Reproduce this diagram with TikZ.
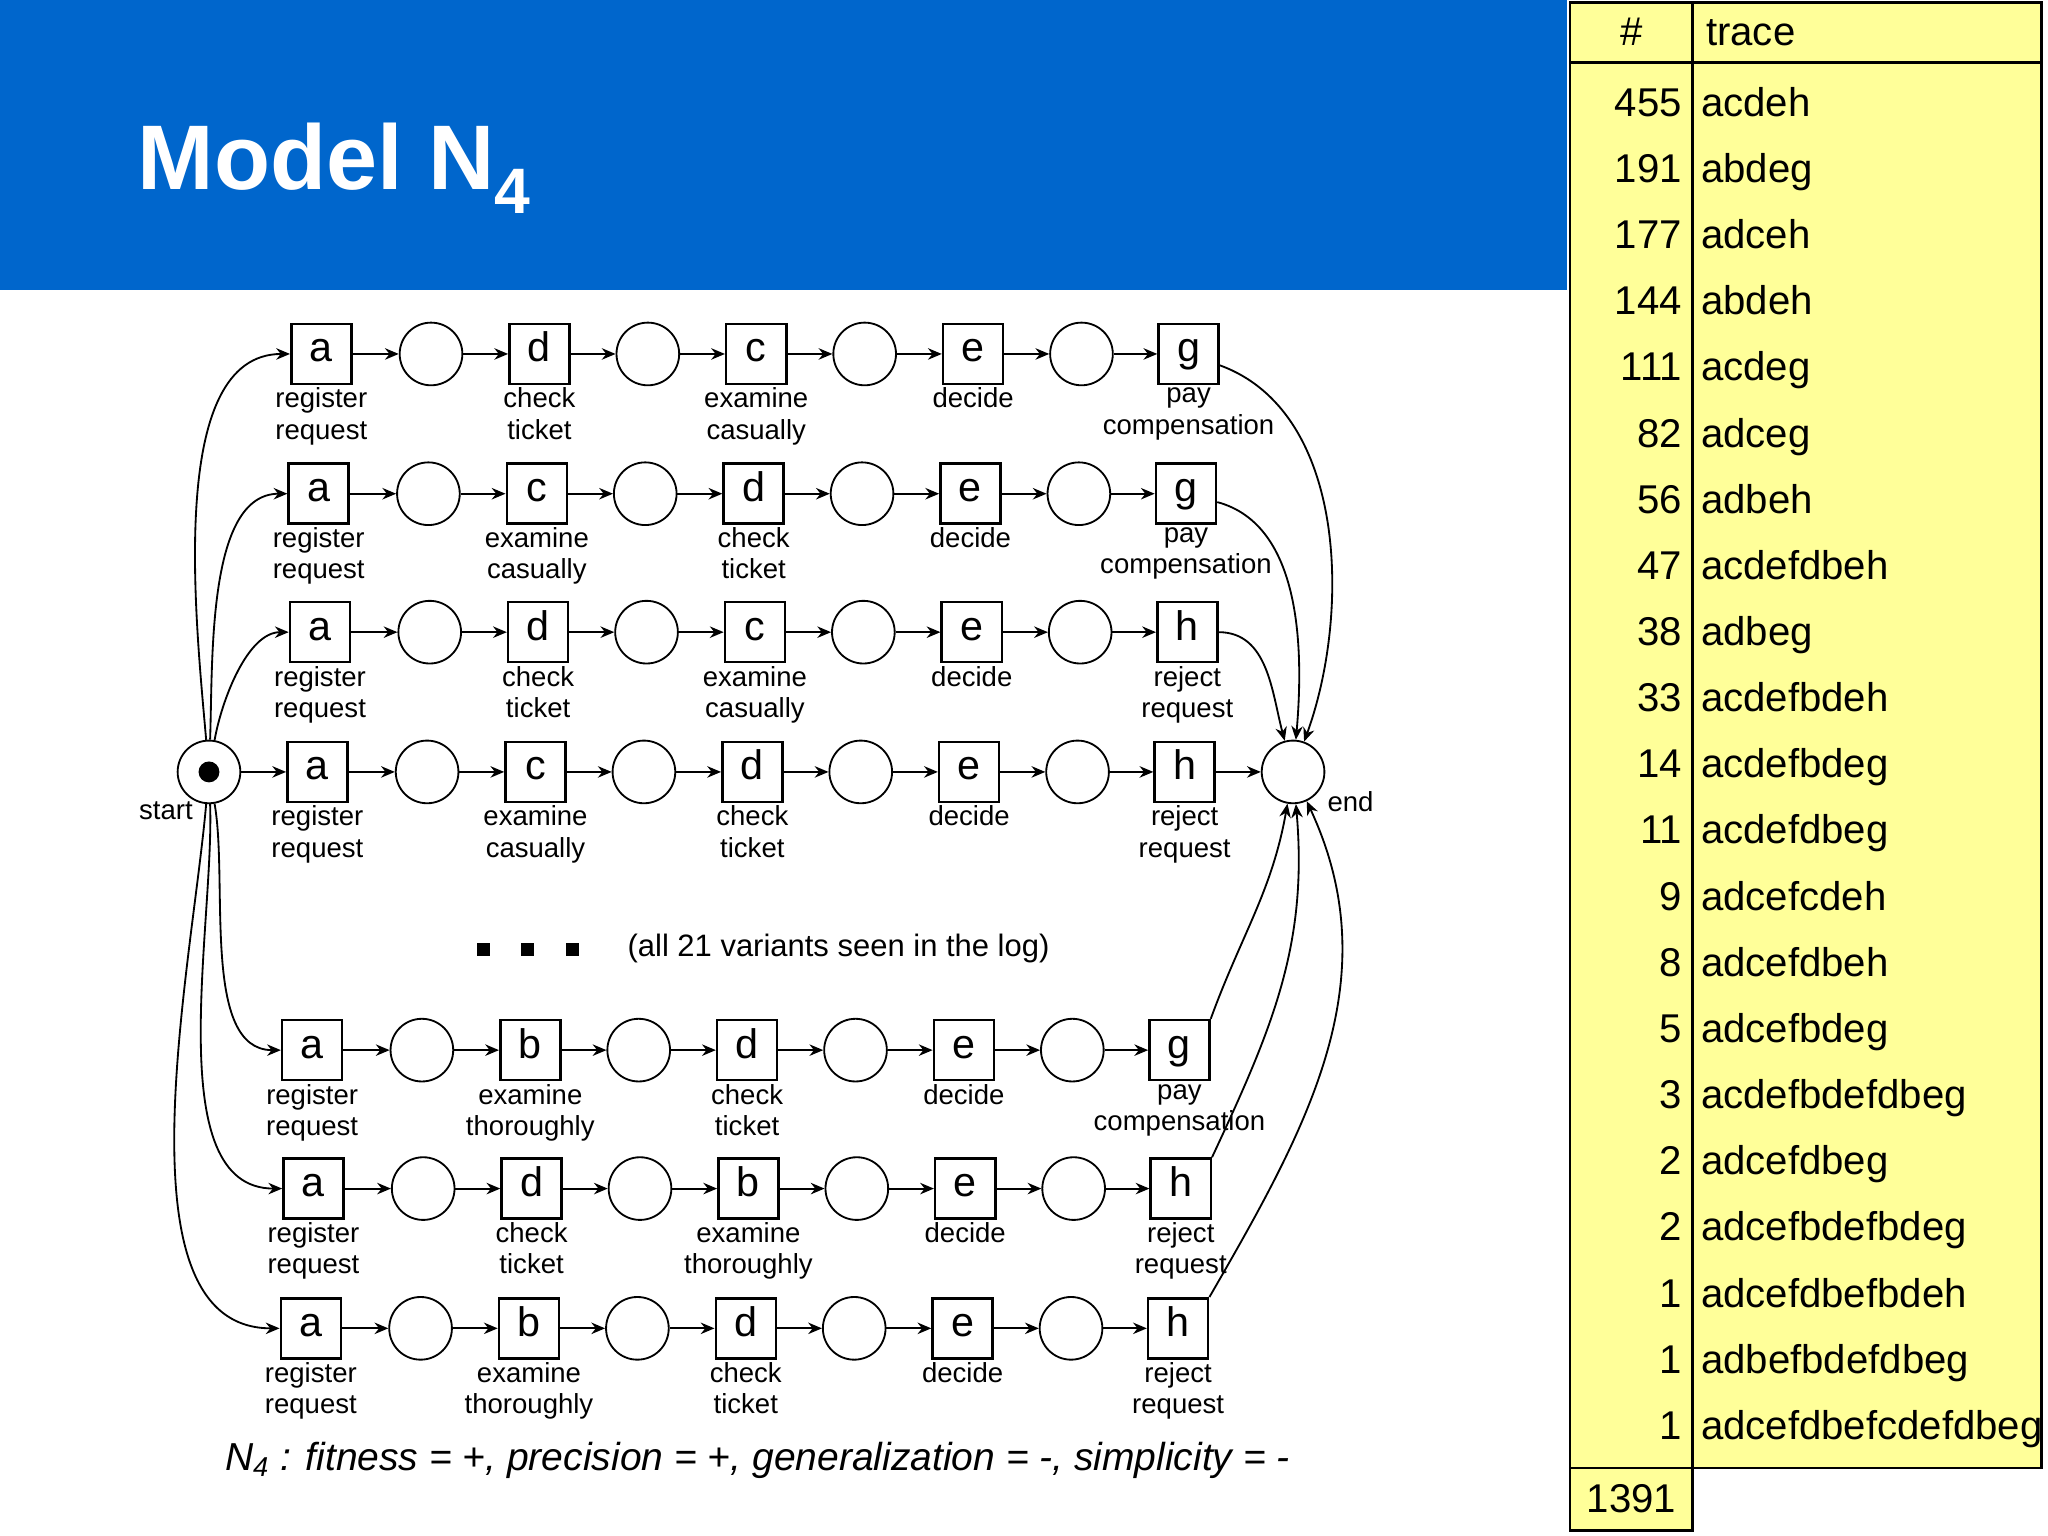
\documentclass[tikz,border=0pt]{standalone}
\usepackage{fontspec}
\setmainfont{Liberation Sans}
\usetikzlibrary{arrows.meta}
\definecolor{banner}{HTML}{0066CC}
\definecolor{tabfill}{HTML}{FFFF99}
\tikzset{
  trans/.style={draw,line width=1.1pt,minimum size=0.92cm,inner sep=0pt,text height=1.3ex,text depth=0pt,font=\fontsize{18}{20}\selectfont},
  place/.style={draw,circle,line width=0.8pt,minimum size=0.96cm,inner sep=0pt},
  lbl/.style={align=center,font=\fontsize{12}{13.6}\selectfont,inner sep=1pt},
  arc/.style={line width=0.8pt,-{Stealth[length=6pt,width=5pt]}},
  cnt/.style={anchor=base east,font=\fontsize{17.5}{20}\selectfont},
  trc/.style={anchor=base west,font=\fontsize{17.5}{20}\selectfont}
}
\newcommand\prow[9]{%
  \node[trans,label={[lbl]below:{register\\request}}] (#1t1) at (243+#3,#2) {a};
  \node[place] (#1p1) at (327+#3,#2) {};
  \node[trans,label={[lbl]below:{#5}}] (#1t2) at (410+#3,#2) {#4};
  \node[place] (#1p2) at (493+#3,#2) {};
  \node[trans,label={[lbl]below:{#7}}] (#1t3) at (576+#3,#2) {#6};
  \node[place] (#1p3) at (659+#3,#2) {};
  \node[trans,label={[lbl]below:{decide}}] (#1t4) at (742+#3,#2) {e};
  \node[place] (#1p4) at (825+#3,#2) {};
  \node[trans,label={[lbl]below:{#9}}] (#1t5) at (907+#3,#2) {#8};
  \draw[arc] (#1t1)--(#1p1); \draw[arc] (#1p1)--(#1t2);
  \draw[arc] (#1t2)--(#1p2); \draw[arc] (#1p2)--(#1t3);
  \draw[arc] (#1t3)--(#1p3); \draw[arc] (#1p3)--(#1t4);
  \draw[arc] (#1t4)--(#1p4); \draw[arc] (#1p4)--(#1t5);
}
\begin{document}
\begin{tikzpicture}[x=0.02cm,y=-0.02cm]
\useasboundingbox (0,0) rectangle (1568,1176);
\fill[white] (0,0) rectangle (1568,1176);
\fill[banner] (0,0) rectangle (1200,222);
\node[anchor=base west,text=white,font=\fontsize{40}{46}\selectfont\bfseries,inner sep=0pt] (title) at (105,145) {Model N\textsubscript{4}};
% table
\fill[tabfill,draw=black,line width=1.2pt] (1202,2) -- (1563,2) -- (1563,1124) -- (1296,1124) -- (1296,1172) -- (1202,1172) -- cycle;
\draw[line width=1.2pt] (1202,48) -- (1563,48);
\draw[line width=1.2pt] (1202,1124) -- (1296,1124);
\draw[line width=1.2pt] (1296,2) -- (1296,1172);
\node[anchor=base,font=\fontsize{17.5}{20}\selectfont] (hh) at (1249,35) {\#};
\node[trc] (ht) at (1300,35) {trace};
\foreach \n/\t [count=\i from 0] in {455/acdeh,191/abdeg,177/adceh,144/abdeh,111/acdeg,82/adceg,56/adbeh,47/acdefdbeh,38/adbeg,33/acdefbdeh,14/acdefbdeg,11/acdefdbeg,9/adcefcdeh,8/adcefdbeh,5/adcefbdeg,3/acdefbdefdbeg,2/adcefdbeg,2/adcefbdefbdeg,1/adcefdbefbdeh,1/adbefbdefdbeg,1/adcefdbefcdefdbeg}{
  \node[cnt,inner sep=0pt] (c\i) at (1288,89+50.65*\i) {\n};
  \node[trc,inner sep=0pt] (t\i) at (1302,89+50.65*\i) {\t};
}
\node[anchor=base,font=\fontsize{17.5}{20}\selectfont] (total) at (1249,1158) {1391};
% petri net rows
\prow{A}{271}{3}{d}{check\\ticket}{c}{examine\\casually}{g}{pay\\compensation}
\prow{B}{378}{1}{c}{examine\\casually}{d}{check\\ticket}{g}{pay\\compensation}
\prow{C}{484}{2}{d}{check\\ticket}{c}{examine\\casually}{h}{reject\\request}
\prow{D}{591}{0}{c}{examine\\casually}{d}{check\\ticket}{h}{reject\\request}
\prow{E}{804}{-4}{b}{examine\\thoroughly}{d}{check\\ticket}{g}{pay\\compensation}
\prow{F}{910}{-3}{d}{check\\ticket}{b}{examine\\thoroughly}{h}{reject\\request}
\prow{G}{1017}{-5}{b}{examine\\thoroughly}{d}{check\\ticket}{h}{reject\\request}
\node[place] (start) at (160,591) {};
\fill (start) circle (8);
\node[lbl,font=\fontsize{12}{13}\selectfont] (startl) at (127,621) {start};
\node[place] (end) at (990,591) {};
\node[lbl,font=\fontsize{12}{13}\selectfont] (endl) at (1034,614) {end};
% start arcs
\draw[arc] (start) to[out=95,in=180,looseness=0.8] (At1);
\draw[arc] (start) to[out=88,in=180,looseness=0.8] (Bt1);
\draw[arc] (start) to[out=80,in=180,looseness=0.8] (Ct1);
\draw[arc] (start) -- (Dt1);
\draw[arc] (start) to[out=-80,in=180,looseness=0.8] (Et1);
\draw[arc] (start) to[out=-88,in=180,looseness=0.8] (Ft1);
\draw[arc] (start) to[out=-95,in=180,looseness=0.8] (Gt1);
% end arcs
\draw[arc] (At5) to[out=-20,in=70,looseness=0.9] (end);
\draw[arc] (Bt5) to[out=-15,in=85,looseness=0.9] (end);
\draw[arc] (Ct5) to[out=0,in=105] (end);
\draw[arc] (Dt5) -- (end);
\draw[arc] (Et5.north east) to[out=70,in=-100] (end);
\draw[arc] (Ft5.north east) to[out=65,in=-85] (end);
\draw[arc] (Gt5.north east) to[out=60,in=-65] (end);
% dots and notes
\foreach \x [count=\k] in {370,404,438}{\fill (\x-5,722) rectangle (\x+5,732);}
\node[font=\fontsize{13.5}{16}\selectfont] (note) at (642,726) {(all 21 variants seen in the log)};
\node[font=\fontsize{17}{19}\selectfont\itshape] (cap) at (580,1118) {N\textsubscript{4} : fitness = +, precision = +, generalization = -, simplicity = -};
\end{tikzpicture}
\end{document}
